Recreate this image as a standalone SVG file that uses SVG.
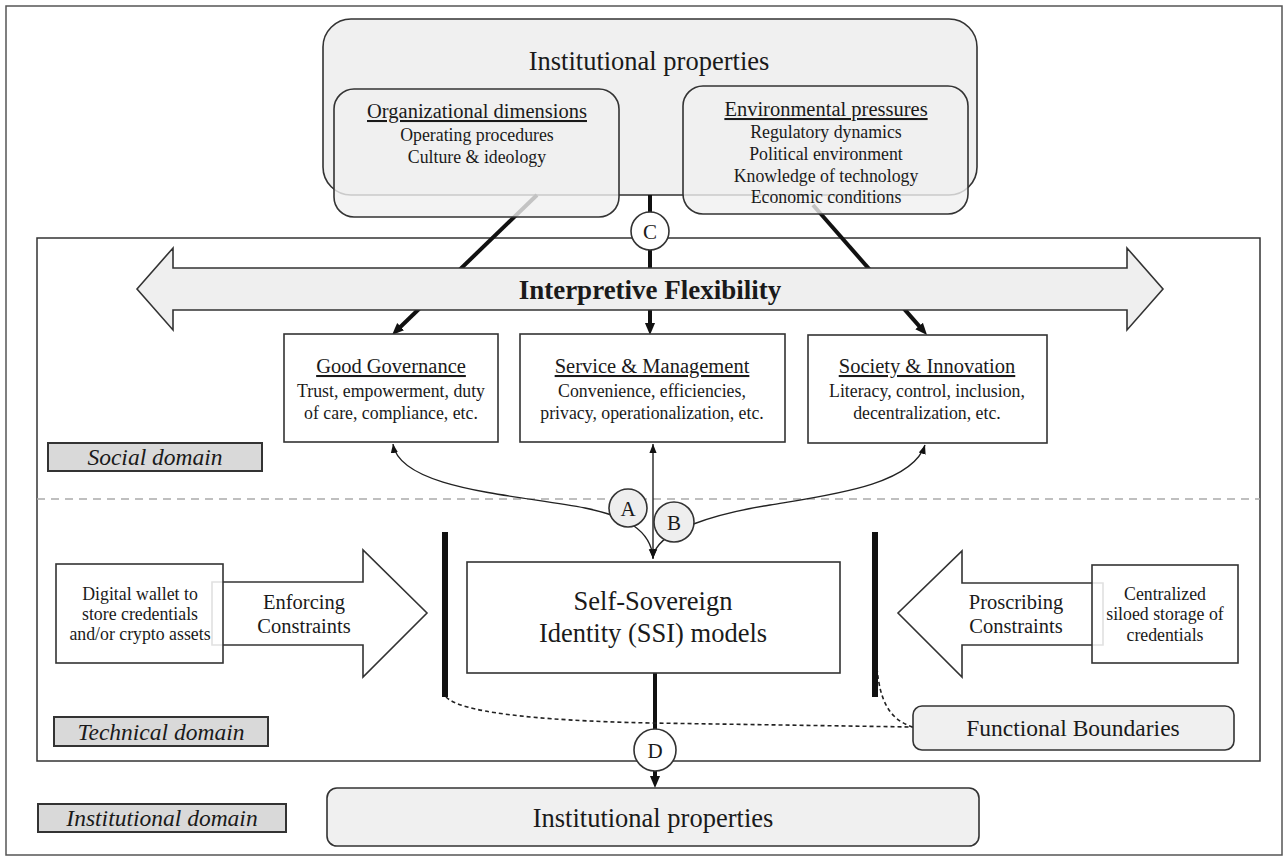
<svg xmlns="http://www.w3.org/2000/svg" width="1287" height="860" viewBox="0 0 1287 860">
<style>
text{font-family:"Liberation Serif","Times New Roman",serif;fill:#1a1a1a;text-anchor:middle}
.frame{fill:none;stroke:#333;stroke-width:1.5}
.lbl{fill:#d9d9d9;stroke:#333;stroke-width:2}
.lbl-t{font-size:23.5px;font-style:italic}
.rbox{fill:#f0f0f0;stroke:#333;stroke-width:1.6}
.sub{fill:#f0f0f0;fill-opacity:0.8;stroke:#333;stroke-width:1.6}
.box{fill:#fff;stroke:#333;stroke-width:1.6}
.sbox{fill:#fff;fill-opacity:0.85;stroke:#333;stroke-width:1.6}
.t{font-size:20.5px;text-decoration:underline}
.b{font-size:17.8px}
.thick{fill:none;stroke:#111;stroke-width:4}
.thin{fill:none;stroke:#222;stroke-width:1.4}
.dash{fill:none;stroke:#222;stroke-width:1.6;stroke-dasharray:4 3}
.circ{fill:#fff;stroke:#333;stroke-width:1.6}
.circg{fill:#eee;stroke:#333;stroke-width:1.6}
.ct{font-size:21px}
.bar{fill:#111}
</style>
<defs>
<marker id="ah" viewBox="0 0 10 10" refX="1" refY="5" markerWidth="12" markerHeight="12" markerUnits="userSpaceOnUse" orient="auto"><path d="M0,0.8 L10,5 L0,9.2 z" fill="#111"/></marker>
<marker id="as" viewBox="0 0 10 10" refX="10" refY="5" markerWidth="9" markerHeight="9" markerUnits="userSpaceOnUse" orient="auto-start-reverse"><path d="M0,1 L10,5 L0,9 z" fill="#111"/></marker>
</defs>

<g id="frames">
<rect x="6" y="6" width="1276" height="849" fill="#fff" stroke="#555" stroke-width="1.5"/>
<rect class="frame" x="37" y="238" width="1223" height="523"/>
<line x1="37" y1="499" x2="1260" y2="499" stroke="#aaa" stroke-width="1.5" stroke-dasharray="8 6"/>
</g>

<g id="domain-social"><rect class="lbl" x="48" y="443" width="214" height="28"/><text class="lbl-t" x="155" y="465">Social domain</text></g>
<g id="domain-technical"><rect class="lbl" x="54" y="717" width="214" height="29"/><text class="lbl-t" x="161" y="740">Technical domain</text></g>
<g id="domain-institutional"><rect class="lbl" x="38" y="804" width="248" height="28"/><text class="lbl-t" x="162" y="826">Institutional domain</text></g>

<g id="institutional-top">
<rect class="rbox" x="323" y="19" width="654" height="176" rx="28"/>
<text x="649" y="70" font-size="26.5">Institutional properties</text>
</g>

<g id="connectors">
<line class="thick" x1="537" y1="195" x2="399.8" y2="327.5" marker-end="url(#ah)"/>
<line class="thick" x1="650" y1="195" x2="650" y2="324.2" marker-end="url(#ah)" stroke-width="3.5"/>
<line class="thick" x1="813" y1="205" x2="919.9" y2="326.9" marker-end="url(#ah)"/>
<path class="thin" d="M393,444 C400,490 520,495 585,508 C625,516 651,530 653,558" marker-start="url(#as)" marker-end="url(#as)"/>
<path class="thin" d="M925,445 C912,485 830,495 770,505 C720,513 655,530 653,558" marker-start="url(#as)" marker-end="url(#as)"/>
<line class="thin" x1="653" y1="444" x2="653" y2="559" marker-start="url(#as)" marker-end="url(#as)"/>
<line class="thick" x1="655" y1="673" x2="655" y2="777.2" stroke-width="3.5" marker-end="url(#ah)"/>
<path class="dash" d="M446,697 Q468,719 650,723 L913,727"/>
<path class="dash" d="M877,668 C880,702 890,720 913,727"/>
</g>

<g id="org-dimensions">
<rect class="sub" x="334" y="89" width="285" height="128" rx="20"/>
<text class="t" x="477" y="118">Organizational dimensions</text>
<text class="b" x="477" y="141">Operating procedures</text>
<text class="b" x="477" y="163">Culture &amp; ideology</text>
</g>

<g id="env-pressures">
<rect class="sub" x="683" y="86" width="285" height="128" rx="20"/>
<text class="t" x="826" y="116">Environmental pressures</text>
<text class="b" x="826" y="138">Regulatory dynamics</text>
<text class="b" x="826" y="160">Political environment</text>
<text class="b" x="826" y="182">Knowledge of technology</text>
<text class="b" x="826" y="203">Economic conditions</text>
</g>

<g id="interpretive-flexibility">
<polygon points="137,289 173,248 173,268 1127,268 1127,248 1163,289 1127,330 1127,310 173,310 173,330" fill="#efefef" stroke="#333" stroke-width="1.6"/>
<text x="650" y="299" font-size="27" font-weight="bold">Interpretive Flexibility</text>
</g>

<g id="good-governance">
<rect class="box" x="284" y="334" width="214" height="108"/>
<text class="t" x="391" y="373">Good Governance</text>
<text class="b" x="391" y="397">Trust, empowerment, duty</text>
<text class="b" x="391" y="419">of care, compliance, etc.</text>
</g>

<g id="service-management">
<rect class="box" x="520" y="334" width="265" height="108"/>
<text class="t" x="652" y="373">Service &amp; Management</text>
<text class="b" x="652" y="397">Convenience, efficiencies,</text>
<text class="b" x="652" y="419">privacy, operationalization, etc.</text>
</g>

<g id="society-innovation">
<rect class="box" x="808" y="335" width="239" height="108"/>
<text class="t" x="927" y="373">Society &amp; Innovation</text>
<text class="b" x="927" y="397">Literacy, control, inclusion,</text>
<text class="b" x="927" y="419">decentralization, etc.</text>
</g>

<g id="enforcing">
<polygon points="212,582 363,582 363,550 427,613 363,677 363,645 212,645" fill="#fff" stroke="#333" stroke-width="1.6"/>
<text x="304" y="609" font-size="20.5">Enforcing</text>
<text x="304" y="633" font-size="20.5">Constraints</text>
</g>
<g id="digital-wallet">
<rect class="sbox" x="56" y="564" width="167" height="99"/>
<text class="b" x="140" y="600">Digital wallet to</text>
<text class="b" x="140" y="620">store credentials</text>
<text class="b" x="140" y="640">and/or crypto assets</text>
</g>

<g id="proscribing">
<polygon points="1103,583 962,583 962,551 898,613 962,677 962,645 1103,645" fill="#fff" stroke="#333" stroke-width="1.6"/>
<text x="1016" y="609" font-size="20.5">Proscribing</text>
<text x="1016" y="633" font-size="20.5">Constraints</text>
</g>
<g id="centralized">
<rect class="sbox" x="1092" y="565" width="146" height="98"/>
<text class="b" x="1165" y="600">Centralized</text>
<text class="b" x="1165" y="620">siloed storage of</text>
<text class="b" x="1165" y="641">credentials</text>
</g>

<g id="ssi">
<rect class="box" x="467" y="562" width="373" height="111"/>
<text x="653" y="610" font-size="26.5">Self-Sovereign</text>
<text x="653" y="642" font-size="26.5">Identity (SSI) models</text>
</g>

<g id="boundary-left"><rect class="bar" x="442" y="532" width="6" height="165"/></g>
<g id="boundary-right"><rect class="bar" x="872" y="532" width="6" height="165"/></g>

<g id="functional-boundaries">
<rect class="rbox" x="913" y="706" width="321" height="44" rx="9"/>
<text x="1073" y="736" font-size="23.5">Functional Boundaries</text>
</g>

<g id="institutional-bottom">
<rect class="rbox" x="327" y="788" width="652" height="58" rx="10"/>
<text x="653" y="827" font-size="26.5">Institutional properties</text>
</g>

<g id="label-C"><circle class="circ" cx="650" cy="231" r="19"/><text class="ct" x="650" y="238.5">C</text></g>
<g id="label-A"><circle class="circg" cx="628" cy="508" r="19"/><text class="ct" x="628" y="515.5">A</text></g>
<g id="label-B"><circle class="circg" cx="674" cy="522" r="20"/><text class="ct" x="674" y="529.5">B</text></g>
<g id="label-D"><circle class="circ" cx="655" cy="750" r="21"/><text class="ct" x="655" y="757.5">D</text></g>
</svg>
